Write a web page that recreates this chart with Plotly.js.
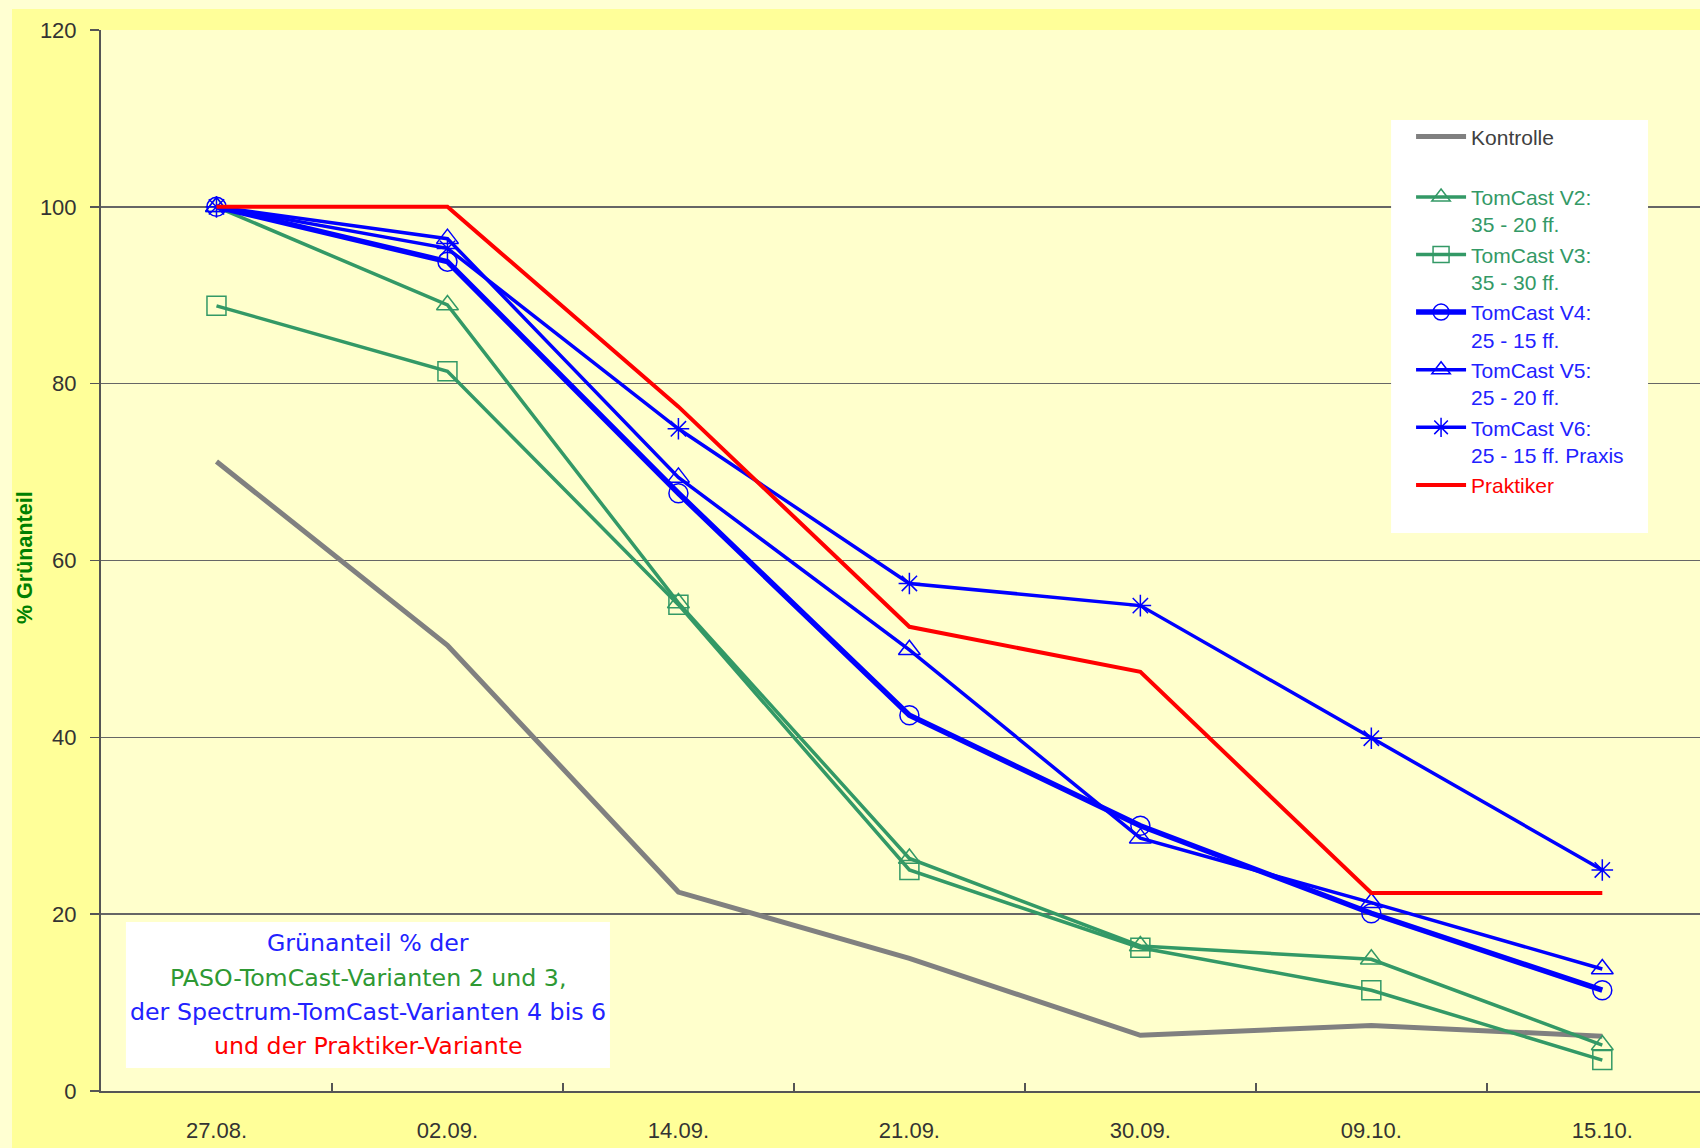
<!DOCTYPE html>
<html>
<head>
<meta charset="utf-8">
<script src="https://cdn.plot.ly/plotly-3.0.1.min.js"></script>
<style>
  html, body { margin: 0; padding: 0; width: 1700px; height: 1148px; background: #FFFFD2; overflow: hidden; }
  #chart { position: absolute; left: 12px; top: 9px; width: 1688px; height: 1139px; }
</style>
</head>
<body>
<div id="chart"></div>
<script>
// ---- data ----
const categories = ["27.08.", "02.09.", "14.09.", "21.09.", "30.09.", "09.10.", "15.10."];
const kontrolle = [71.2, 50.4, 22.5, 15.0, 6.3, 7.4, 6.2];
const tomcastV2 = [100, 88.9, 55.2, 26.3, 16.4, 14.9, 5.2];
const tomcastV3 = [88.8, 81.4, 55.0, 25.0, 16.2, 11.4, 3.5];
const tomcastV4 = [100, 93.8, 67.6, 42.5, 30.0, 20.1, 11.4];
const tomcastV5 = [100, 96.4, 69.4, 49.9, 28.6, 21.3, 13.8];
const tomcastV6 = [100, 95.3, 74.9, 57.4, 54.9, 39.9, 25.0];
const praktiker = [100, 100, 77.4, 52.5, 47.4, 22.4, 22.4];

const yTitle = "% Grünanteil";
const boxLines = [
  "Grünanteil % der",
  "PASO-TomCast-Varianten 2 und 3,",
  "der Spectrum-TomCast-Varianten 4 bis 6",
  "und der Praktiker-Variante"
];

// ---- styles ----
const GREEN = "#339966", BLUE = "#0000FF", RED = "#FF0000", GRAY = "#808080";
const TXT_GREEN = "#339966", TXT_BLUE = "#2222FF", TXT_GRAY = "#404040";

function nm(lines, color) {
  return lines.map(l => '<span style="color:' + color + '">' + l + '</span>').join('<br>');
}

const traces = [
  { x: categories, y: kontrolle, name: nm(["Kontrolle"], TXT_GRAY), mode: "lines",
    line: { color: GRAY, width: 5 }, legendgroup: "a" },
  { x: categories, y: tomcastV2, name: nm(["TomCast V2:", "35 - 20 ff."], TXT_GREEN), mode: "lines+markers",
    line: { color: GREEN, width: 3.5 }, marker: { symbol: "triangle-up-open", size: 19, color: GREEN, line: { width: 1.5, color: GREEN } }, legendgroup: "b" },
  { x: categories, y: tomcastV3, name: nm(["TomCast V3:", "35 - 30 ff."], TXT_GREEN), mode: "lines+markers",
    line: { color: GREEN, width: 3.5 }, marker: { symbol: "square-open", size: 19, color: GREEN, line: { width: 1.5, color: GREEN } }, legendgroup: "b" },
  { x: categories, y: tomcastV4, name: nm(["TomCast V4:", "25 - 15 ff."], TXT_BLUE), mode: "lines+markers",
    line: { color: BLUE, width: 5.5 }, marker: { symbol: "circle-open", size: 19, color: BLUE, line: { width: 1.5, color: BLUE } }, legendgroup: "b" },
  { x: categories, y: tomcastV5, name: nm(["TomCast V5:", "25 - 20 ff."], TXT_BLUE), mode: "lines+markers",
    line: { color: BLUE, width: 3.5 }, marker: { symbol: "triangle-up-open", size: 19, color: BLUE, line: { width: 1.5, color: BLUE } }, legendgroup: "b" },
  { x: categories, y: tomcastV6, name: nm(["TomCast V6:", "25 - 15 ff. Praxis"], TXT_BLUE), mode: "lines+markers",
    line: { color: BLUE, width: 3.5 }, marker: { symbol: "asterisk-open", size: 18, color: BLUE, line: { width: 1.5, color: BLUE } }, legendgroup: "b" },
  { x: categories, y: praktiker, name: nm(["Praktiker"], RED), mode: "lines",
    line: { color: RED, width: 4 }, legendgroup: "b" }
];

const tickFont = { family: "Liberation Sans, Arial", size: 22, color: "#333333" };
const boxColors = [TXT_BLUE, "#2E9933", TXT_BLUE, RED];
const boxY = [0.1395, 0.1065, 0.0745, 0.0424];

const annotations = boxLines.map((t, i) => ({
  xref: "paper", yref: "paper", x: 0.167, y: boxY[i], xanchor: "center", yanchor: "middle",
  text: t, showarrow: false, font: { family: "DejaVu Sans, Verdana, sans-serif", size: 23.7, color: boxColors[i] }
}));
annotations.push({
  xref: "paper", yref: "paper", x: -0.0475, y: 0.5024, xanchor: "center", yanchor: "middle",
  text: "<b>" + yTitle + "</b>", textangle: -90, showarrow: false,
  font: { family: "Liberation Sans, Arial", size: 21.5, color: "#008000" }
});

const layout = {
  width: 1688, height: 1139,
  margin: { l: 89, r: 0, t: 21, b: 57, pad: 0 },
  paper_bgcolor: "#FFFF99",
  plot_bgcolor: "#FFFFCC",
  showlegend: true,
  xaxis: {
    type: "category", range: [-0.5, 6.423], tickson: "boundaries",
    ticks: "inside", ticklen: 8, tickwidth: 1.5, tickcolor: "#555555",
    showline: true, linecolor: "#555555", linewidth: 2, showgrid: false, zeroline: false,
    tickfont: tickFont, ticklabelstandoff: 19, fixedrange: true
  },
  yaxis: {
    range: [0, 120], dtick: 20, tick0: 0,
    ticks: "outside", ticklen: 9, tickwidth: 1.5, tickcolor: "#555555",
    showline: true, linecolor: "#555555", linewidth: 2,
    showgrid: true, gridcolor: "#666666", gridwidth: 1.5, zeroline: false,
    tickfont: tickFont, ticklabelstandoff: 9, fixedrange: true
  },
  legend: {
    x: 0.8193, y: 0.9185, xanchor: "left", yanchor: "top",
    bgcolor: "rgba(0,0,0,0)", borderwidth: 0,
    font: { family: "Liberation Sans, Arial", size: 21 },
    itemwidth: 50, tracegroupgap: 30, traceorder: "grouped", valign: "top"
  },
  shapes: [
    { type: "rect", xref: "paper", yref: "paper", x0: 0.8068, x1: 0.9675, y0: 0.5259, y1: 0.9152,
      fillcolor: "#FFFFFF", line: { width: 0 }, layer: "above" },
    { type: "rect", xref: "paper", yref: "paper", x0: 0.0156, x1: 0.3183, y0: 0.0217, y1: 0.1593,
      fillcolor: "#FFFFFF", line: { width: 0 }, layer: "above" }
  ],
  annotations: annotations
};

Plotly.newPlot("chart", traces, layout, { displayModeBar: false, staticPlot: true });
</script>
</body>
</html>
